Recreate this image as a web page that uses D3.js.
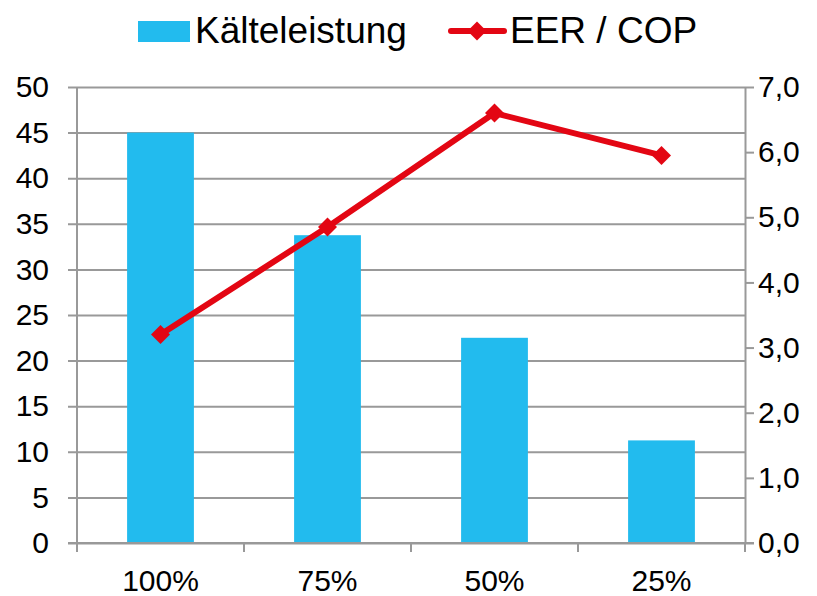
<!DOCTYPE html>
<html>
<head>
<meta charset="utf-8">
<script src="https://cdn.jsdelivr.net/npm/d3@7"></script>
<style>
  html, body { margin: 0; padding: 0; background: #fff; }
  svg { display: block; font-family: "Liberation Sans", Arial, sans-serif; }
</style>
</head>
<body>
<svg id="chart" width="817" height="596"></svg>
<script>
// Load levels and their measured values
const categories = ["100%", "75%", "50%", "25%"];
const kaelteleistung = [45, 33.75, 22.5, 11.25];
const eerCop = [3.2, 4.85, 6.6, 5.95];
const leftTicks = [0, 5, 10, 15, 20, 25, 30, 35, 40, 45, 50];
const rightTicks = [0, 1, 2, 3, 4, 5, 6, 7];

const svg = d3.select("#chart");
const plot = { left: 77, right: 745, top: 87, bottom: 543 };

const x = d3.scaleBand().domain(categories).range([plot.left, plot.right]).paddingInner(0.6).paddingOuter(0.3);
const xEdge = d3.scaleBand().domain(categories).range([plot.left, plot.right]);
const yL = d3.scaleLinear().domain([0, 50]).range([plot.bottom, plot.top]);
const yR = d3.scaleLinear().domain([0, 7]).range([plot.bottom, plot.top]);

const gridColor = "#999";

// Horizontal gridlines with outward ticks on the left
const leftAxis = d3.axisLeft(yL).tickValues(leftTicks).tickSize(-(plot.right - plot.left)).tickSizeOuter(0).tickPadding(28);
const gL = svg.append("g").attr("transform", `translate(${plot.left},0)`).call(leftAxis);
gL.select(".domain").remove();
gL.selectAll(".tick line").attr("stroke", gridColor).attr("stroke-width", 2).attr("x1", -9);
gL.selectAll(".tick text").attr("font-size", 30).attr("fill", "#000").attr("font-family", "Liberation Sans, Arial, sans-serif");

// Bars
svg.append("g").selectAll("rect").data(categories).join("rect")
  .attr("x", d => x(d))
  .attr("width", x.bandwidth())
  .attr("y", (d, i) => yL(kaelteleistung[i]))
  .attr("height", (d, i) => yL(0) - yL(kaelteleistung[i]))
  .attr("fill", "#22BBEE");

// Left spine
svg.append("line").attr("x1", plot.left).attr("x2", plot.left).attr("y1", plot.top).attr("y2", plot.bottom)
  .attr("stroke", gridColor).attr("stroke-width", 2);

// Right axis
const rightAxis = d3.axisRight(yR).tickValues(rightTicks).tickSize(9).tickSizeOuter(0).tickPadding(4)
  .tickFormat(d => d3.format(".1f")(d).replace(".", ","));
const gR = svg.append("g").attr("transform", `translate(${plot.right},0)`).call(rightAxis);
gR.select(".domain").attr("stroke", gridColor).attr("stroke-width", 2);
gR.selectAll(".tick line").attr("stroke", gridColor).attr("stroke-width", 2);
gR.selectAll(".tick text").attr("font-size", 30).attr("fill", "#000").attr("font-family", "Liberation Sans, Arial, sans-serif");

// Bottom axis with category boundaries as ticks
const gB = svg.append("g").attr("transform", `translate(0,${plot.bottom})`);
gB.append("line").attr("x1", plot.left - 9).attr("x2", plot.right + 9).attr("y1", 0).attr("y2", 0)
  .attr("stroke", gridColor).attr("stroke-width", 2);
const edges = categories.map(c => xEdge(c)).concat([plot.right]);
gB.selectAll("line.edge").data(edges).join("line").attr("class", "edge")
  .attr("x1", d => d).attr("x2", d => d).attr("y1", 0).attr("y2", 9)
  .attr("stroke", gridColor).attr("stroke-width", 2);
gB.selectAll("text").data(categories).join("text")
  .attr("x", d => xEdge(d) + xEdge.bandwidth() / 2)
  .attr("y", 48)
  .attr("text-anchor", "middle")
  .attr("font-size", 30)
  .text(d => d);

// EER / COP line
const red = "#E30613";
const cx = d => x(d) + x.bandwidth() / 2;
const line = d3.line().x((d, i) => cx(categories[i])).y(d => yR(d));
svg.append("path").datum(eerCop).attr("d", line)
  .attr("fill", "none").attr("stroke", red).attr("stroke-width", 6).attr("stroke-linejoin", "round");
const diamond = d3.symbol().type(d3.symbolSquare).size(180);
svg.append("g").selectAll("path").data(eerCop).join("path")
  .attr("d", diamond)
  .attr("transform", (d, i) => `translate(${cx(categories[i])},${yR(d)}) rotate(45)`)
  .attr("fill", red);

// Legend
const lg = svg.append("g");
lg.append("rect").attr("x", 138).attr("y", 21).attr("width", 52).attr("height", 21).attr("fill", "#22BBEE");
lg.append("text").attr("x", 195).attr("y", 43).attr("font-size", 37).text("Kälteleistung");
lg.append("line").attr("x1", 451).attr("x2", 504).attr("y1", 31).attr("y2", 31)
  .attr("stroke", red).attr("stroke-width", 6).attr("stroke-linecap", "round");
lg.append("path").attr("d", diamond).attr("transform", "translate(477,31) rotate(45)").attr("fill", red);
lg.append("text").attr("x", 510).attr("y", 43).attr("font-size", 37).text("EER / COP");
</script>
</body>
</html>
